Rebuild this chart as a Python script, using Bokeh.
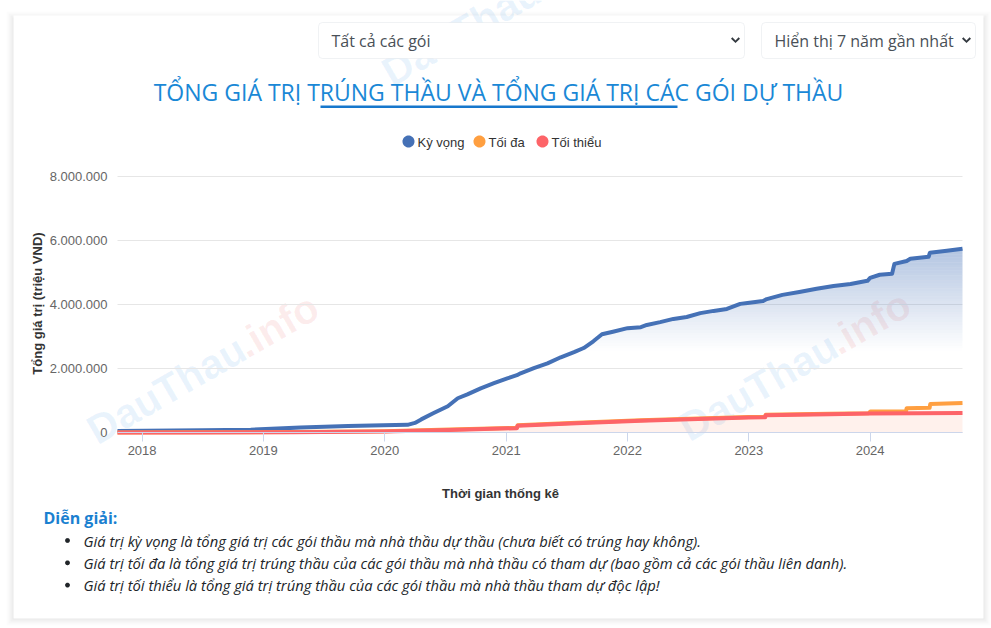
import numpy as np
import pandas as pd
from bokeh.plotting import figure
from bokeh.models import (Range1d, FixedTicker, CustomJSTickFormatter, DatetimeTickFormatter,
                          Label, BoxAnnotation, PolyAnnotation)
from bokeh.embed import file_html
from bokeh.resources import INLINE

W, H = 991, 628

# ---------------- data (triệu VND) ----------------
ky_vong_dates = ["2017-10-19", "2018-07-02", "2018-11-24", "2019-04-23", "2019-09-13", "2019-12-28",
                 "2020-03-10", "2020-04-01", "2020-04-20", "2020-05-26", "2020-07-09", "2020-08-08",
                 "2020-09-06", "2020-10-16", "2020-11-25", "2021-01-04", "2021-02-02", "2021-02-13",
                 "2021-03-25", "2021-05-05", "2021-06-14", "2021-07-24", "2021-08-22", "2021-09-20",
                 "2021-10-16", "2021-11-18", "2022-01-01", "2022-02-10", "2022-02-28", "2022-04-09",
                 "2022-05-19", "2022-06-28", "2022-08-08", "2022-09-17", "2022-10-27", "2022-12-06",
                 "2022-12-28", "2023-02-13", "2023-02-24", "2023-04-12", "2023-06-02", "2023-07-24",
                 "2023-09-13", "2023-11-03", "2023-12-24", "2024-01-01", "2024-01-30", "2024-03-07",
                 "2024-03-14", "2024-04-20", "2024-05-01", "2024-06-25", "2024-06-29", "2024-08-19",
                 "2024-10-05"]
ky_vong_values = [50000, 70000, 85000, 160000, 200000, 230000,
                  240000, 300000, 410000, 600000, 820000, 1070000,
                  1190000, 1380000, 1540000, 1690000, 1790000, 1850000,
                  2010000, 2160000, 2350000, 2510000, 2640000, 2850000,
                  3070000, 3150000, 3260000, 3290000, 3360000, 3450000,
                  3550000, 3610000, 3730000, 3800000, 3860000, 4020000,
                  4050000, 4110000, 4170000, 4300000, 4390000, 4490000,
                  4580000, 4640000, 4740000, 4830000, 4930000, 4960000,
                  5270000, 5360000, 5430000, 5490000, 5620000, 5680000,
                  5740000]

toi_da_dates = ["2017-10-19", "2018-06-01", "2019-04-01", "2019-12-31", "2020-07-15", "2021-02-02",
                "2021-02-04", "2021-08-01", "2022-02-10", "2022-08-01", "2023-01-01", "2023-02-19",
                "2023-02-21", "2023-09-01", "2023-12-28", "2024-01-02", "2024-04-18", "2024-04-20",
                "2024-06-28", "2024-06-30", "2024-10-05"]
toi_da_values = [0, 5000, 15000, 40000, 95000, 150000,
                 225000, 305000, 385000, 435000, 485000, 490000,
                 555000, 585000, 600000, 660000, 665000, 760000,
                 770000, 890000, 920000]

toi_thieu_dates = ["2017-10-19", "2018-06-01", "2019-04-01", "2019-12-31", "2020-07-15", "2021-02-02",
                   "2021-02-04", "2021-08-01", "2022-02-10", "2022-08-01", "2023-01-01", "2023-02-19",
                   "2023-02-21", "2023-09-01", "2024-01-01", "2024-10-05"]
toi_thieu_values = [0, 3000, 10000, 30000, 80000, 135000,
                    210000, 290000, 370000, 420000, 470000, 475000,
                    540000, 570000, 590000, 610000]

x_start, x_end = "2017-10-19", "2024-10-05"
tick_years = [2018, 2019, 2020, 2021, 2022, 2023, 2024]
y_ticks = [0, 2000000, 4000000, 6000000, 8000000]

series_names = ["Kỳ vọng", "Tối đa", "Tối thiểu"]
BLUE, ORANGE, RED = "#4571b6", "#ff9f40", "#fd6468"

title_text = "TỔNG GIÁ TRỊ TRÚNG THẦU VÀ TỔNG GIÁ TRỊ CÁC GÓI DỰ THẦU"
select_texts = ["Tất cả các gói", "Hiển thị 7 năm gần nhất"]
y_title = "Tổng giá trị (triệu VND)"
x_title = "Thời gian thống kê"
note_title = "Diễn giải:"
notes = ["Giá trị kỳ vọng là tổng giá trị các gói thầu mà nhà thầu dự thầu (chưa biết có trúng hay không).",
         "Giá trị tối đa là tổng giá trị trúng thầu của các gói thầu mà nhà thầu có tham dự (bao gồm cả các gói thầu liên danh).",
         "Giá trị tối thiểu là tổng giá trị trúng thầu của các gói thầu mà nhà thầu tham dự độc lập!"]

# ---------------- geometry (px) ----------------
# The frame covers the whole canvas; the plot area is placed inside it by extending the ranges.
P_L, P_R, P_T, P_B = 117, 962, 176, 432
d0, d1 = pd.Timestamp(x_start), pd.Timestamp(x_end)
span = d1 - d0
xr = Range1d(d0 - span * (P_L / (P_R - P_L)), d1 + span * ((W - P_R) / (P_R - P_L)))
ymax = y_ticks[-1]
yr = Range1d(-ymax * (H - P_B) / (P_B - P_T), ymax + ymax * P_T / (P_B - P_T))

p = figure(width=W, height=H, x_axis_type="datetime", output_backend="svg", toolbar_location=None,
           title=None, x_range=xr, y_range=yr,
           min_border=0, min_border_left=0, min_border_right=0, min_border_top=0, min_border_bottom=0)
p.outline_line_color = None
p.background_fill_color = "white"
p.border_fill_color = "white"
p.grid.visible = False

d0_ms = d0.value / 1e6
d1_ms = d1.value / 1e6

p.yaxis.fixed_location = d0_ms
p.yaxis.bounds = (0, ymax)
p.yaxis.ticker = FixedTicker(ticks=y_ticks)
p.yaxis.formatter = CustomJSTickFormatter(code="return Math.round(tick).toString().replace(/\\B(?=(\\d{3})+(?!\\d))/g, '.');")
p.yaxis.axis_line_color = None
p.yaxis.major_tick_line_color = None
p.yaxis.major_tick_out = 0
p.yaxis.major_tick_in = 0
p.yaxis.minor_tick_line_color = None
p.yaxis.minor_tick_out = 0
p.yaxis.major_label_standoff = 10
p.yaxis.major_label_text_color = "#666666"
p.yaxis.major_label_text_font = "Liberation Sans"
p.yaxis.major_label_text_font_size = "13px"

p.xaxis.fixed_location = 0
p.xaxis.bounds = (d0_ms, d1_ms)
p.xaxis.ticker = FixedTicker(ticks=[pd.Timestamp(f"{y}-01-01").value / 1e6 for y in tick_years])
p.xaxis.formatter = DatetimeTickFormatter(years="%Y", months="%Y", days="%Y", hours="%Y")
p.xaxis.axis_line_color = "#ccd6eb"
p.xaxis.major_tick_line_color = "#ccd6eb"
p.xaxis.major_tick_out = 9
p.xaxis.major_tick_in = 0
p.xaxis.minor_tick_line_color = None
p.xaxis.major_label_standoff = 4
p.xaxis.major_label_text_color = "#666666"
p.xaxis.major_label_text_font = "Liberation Sans"
p.xaxis.major_label_text_font_size = "13px"


# screen units: measured from the canvas bottom-left, y upwards
def SY(y):
    return H - y


def lbl(x, y, text, size, color, font="Liberation Sans", style="normal", align="left",
        baseline="middle", angle=0, alpha=1.0, level="annotation"):
    p.add_layout(Label(x=x, y=SY(y), x_units="screen", y_units="screen", text=text,
                       text_font_size=f"{size}px", text_color=color, text_font=font,
                       text_font_style=style, text_align=align, text_baseline=baseline,
                       angle=angle, angle_units="deg", text_alpha=alpha, level=level))


def box(l, t, r, b, fill, line=None, alpha=1.0, radius=0, lw=1, level="annotation"):
    p.add_layout(BoxAnnotation(left=l, right=r, top=SY(t), bottom=SY(b),
                               left_units="screen", right_units="screen",
                               top_units="screen", bottom_units="screen",
                               fill_color=fill, fill_alpha=alpha, line_color=line,
                               line_width=lw, border_radius=radius, level=level))


def poly(xs, ys, fill, level="annotation"):
    p.add_layout(PolyAnnotation(xs=list(xs), ys=[SY(v) for v in ys],
                                xs_units="screen", ys_units="screen",
                                fill_color=fill, fill_alpha=1.0, line_color=None, level=level))


def circle(cx, cy, r, fill):
    t = np.linspace(0, 2 * np.pi, 40, endpoint=False)
    poly(cx + r * np.cos(t), cy + r * np.sin(t), fill)


# ---------------- card + shadow ----------------
CL, CT, CR, CB = 13, 15, 983, 618
for k, a in [(7, 0.012), (5, 0.018), (3, 0.025), (1, 0.035)]:
    box(CL - k, CT - k + 3, CR + k, CB + k, "black", alpha=a, level="image")
box(CL, CT, CR, CB, "white", level="image")

# watermarks
for (wx, wy) in [(90, 433), (682, 430), (385, 75)]:
    lbl(wx, wy, "DauThau", 41, "#1e88e5", style="bold", baseline="alphabetic", angle=30, alpha=0.09, level="underlay")
    dx, dy = 173 * np.cos(np.radians(30)), 173 * np.sin(np.radians(30))
    lbl(wx + dx, wy - dy, ".info", 41, "#e53935", style="bold", baseline="alphabetic", angle=30, alpha=0.09, level="underlay")

# ---------------- series ----------------
x_kv = pd.to_datetime(ky_vong_dates)
kv = np.array(ky_vong_values, dtype=float)
x_da = pd.to_datetime(toi_da_dates)
da = np.array(toi_da_values, dtype=float)
x_tt = pd.to_datetime(toi_thieu_dates)
tt = np.array(toi_thieu_values, dtype=float)

# horizontal grid lines across the plot area
p.segment(x0=[d0] * len(y_ticks), x1=[d1] * len(y_ticks), y0=y_ticks, y1=y_ticks,
          line_color="#e6e6e6", line_width=1)

# gradient fill under "Kỳ vọng"
edges = np.linspace(2550000, 5800000, 41)
for i in range(40):
    a = 0.42 * (i + 0.5) / 40
    p.varea(x=x_kv, y1=np.minimum(kv, edges[i]), y2=np.minimum(kv, edges[i + 1]),
            fill_color=BLUE, fill_alpha=a)
p.varea(x=x_da, y1=0, y2=da, fill_color=ORANGE, fill_alpha=0.06)
p.varea(x=x_tt, y1=0, y2=tt, fill_color=RED, fill_alpha=0.05)

p.line(x_kv, kv, line_color=BLUE, line_width=4, line_join="round")
p.line(x_da, da, line_color=ORANGE, line_width=4, line_join="round")
p.line(x_tt, tt, line_color=RED, line_width=4, line_join="round")

# ---------------- header ----------------
for (l, r, txt) in [(318, 744, select_texts[0]), (761, 975, select_texts[1])]:
    box(l, 22, r, 58, "white", line="#ced4da", radius=4)
    lbl(l + 13, 40, txt, 16, "#495057", font="Open Sans")
    cx, cy = r - 9, 40
    poly([cx - 4.5, cx - 3.1, cx, cx + 3.1, cx + 4.5, cx],
         [cy - 1.8, cy - 3.2, cy - 0.1, cy - 3.2, cy - 1.8, cy + 2.6], "#343a40")

lbl(498, 91, title_text, 23, "#1a88d6", font="Open Sans", align="center")
box(320, 105, 677, 107.5, "#1677cc")

for (cx, tx, name, col) in [(408, 417, series_names[0], BLUE), (479, 488, series_names[1], ORANGE),
                            (542, 551, series_names[2], RED)]:
    circle(cx, 141, 6, col)
    lbl(tx, 141.5, name, 13, "#333333")

# axis titles
lbl(37, 303, y_title, 13, "#333333", style="bold", align="center", angle=90)
lbl(500, 493, x_title, 13, "#333333", style="bold", align="center")

# ---------------- notes ----------------
lbl(43, 517, note_title, 16, "#1a80d0", font="Open Sans", style="bold")
for i, t in enumerate(notes):
    yy = 540 + i * 22.3
    circle(67, yy, 2.4, "#212529")
    lbl(83, yy, t, 14.75, "#212529", font="Open Sans", style="italic")

open("out.html", "w").write(file_html(p, INLINE))
